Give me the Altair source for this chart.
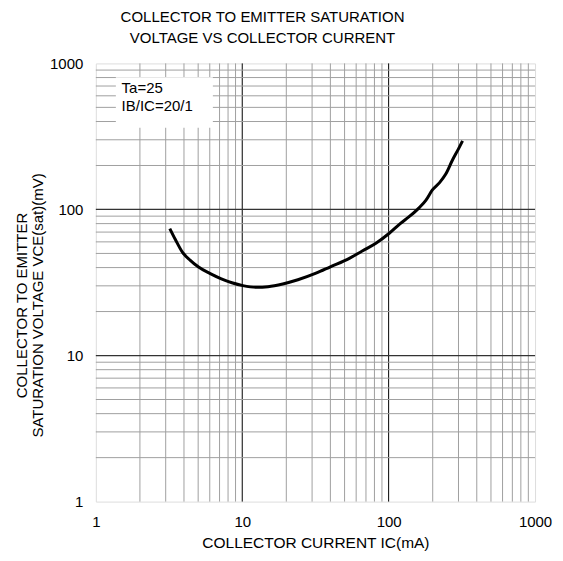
import altair as alt
import pandas as pd

# Curve (IC in mA, VCE(sat) in mV)
ic = [3.2, 3.5, 3.9, 4.4, 5.0, 6.0, 7.2, 8.5, 10.1, 12.5, 15.0, 18.9, 24.0, 31.9, 40.0, 53.9, 66.0, 81.9, 101, 120, 138, 162, 180, 199, 222, 245, 273, 300, 320]
vce = [74, 62, 51, 45, 40.5, 36.5, 33.5, 31.5, 30.1, 29.3, 29.6, 30.9, 33.0, 36.6, 40.5, 46.3, 52.0, 58.7, 68.7, 80.0, 89.2, 103, 116, 136, 152, 174, 218, 260, 295]

minor_x = [2, 3, 4, 5, 6, 7, 8, 9, 20, 30, 40, 50, 60, 70, 80, 90, 200, 300, 400, 500, 600, 700, 800, 900]
major_x = [10, 100]
minor_y = [2, 3, 4, 5, 6, 7, 8, 9, 20, 30, 40, 50, 60, 70, 80, 90, 200, 300, 400, 500, 600, 700, 800, 900]
major_y = [10, 100]
tick_values = [1, 10, 100, 1000]

note_lines = ["Ta=25", "IB/IC=20/1"]
note_x = [1.5, 1.5]
note_y = [676, 509]
box_x = [1.37]
box_x2 = [6.3]
box_y = [804]
box_y2 = [362]

FONT = "Liberation Sans"

xscale = alt.Scale(type="log", domain=[1, 1000], nice=False)
yscale = alt.Scale(type="log", domain=[1, 1000], nice=False)

xaxis = alt.Axis(values=tick_values, format="d", grid=False, ticks=False, domain=False,
                 labelFlush=False, labelOverlap=False, labelPadding=13,
                 labelFont=FONT, labelFontSize=15, labelColor="black",
                 title="COLLECTOR CURRENT IC(mA)", titleFont=FONT, titleFontSize=15.5,
                 titleFontWeight="normal", titleColor="black", titlePadding=6)
yaxis = alt.Axis(values=tick_values, format="d", grid=False, ticks=False, domain=False,
                 labelFlush=False, labelOverlap=False, labelPadding=13,
                 labelFont=FONT, labelFontSize=15, labelColor="black",
                 title=["COLLECTOR TO EMITTER", "SATURATION VOLTAGE VCE(sat)(mV)"],
                 titleFont=FONT, titleFontSize=15, titleFontWeight="normal", titleColor="black",
                 titleAngle=270, titleAlign="center", titleBaseline="top",
                 titleX=-81, titleY=242, titleLineHeight=16)

curve_df = pd.DataFrame({"ic": ic, "vce": vce})

vminor = alt.Chart(pd.DataFrame({"v": minor_x})).mark_rule(color="#a0a0a0", strokeWidth=1).encode(
    x=alt.X("v:Q", scale=xscale, axis=xaxis))
vmajor = alt.Chart(pd.DataFrame({"v": major_x})).mark_rule(color="#000000", strokeWidth=1).encode(
    x=alt.X("v:Q", scale=xscale))
hminor = alt.Chart(pd.DataFrame({"v": minor_y})).mark_rule(color="#a0a0a0", strokeWidth=1).encode(
    y=alt.Y("v:Q", scale=yscale, axis=yaxis))
hmajor = alt.Chart(pd.DataFrame({"v": major_y})).mark_rule(color="#333333", strokeWidth=1.2).encode(
    y=alt.Y("v:Q", scale=yscale))

box = alt.Chart(pd.DataFrame({"x": box_x, "x2": box_x2, "y": box_y, "y2": box_y2})).mark_rect(
    color="white").encode(
    x=alt.X("x:Q", scale=xscale), x2="x2:Q",
    y=alt.Y("y:Q", scale=yscale), y2="y2:Q")

notes = alt.Chart(pd.DataFrame({"t": note_lines, "x": note_x, "y": note_y})).mark_text(
    align="left", baseline="middle", font=FONT, fontSize=15, color="black").encode(
    x=alt.X("x:Q", scale=xscale), y=alt.Y("y:Q", scale=yscale), text="t:N")

curve = alt.Chart(curve_df).mark_line(color="black", strokeWidth=3, interpolate="monotone").encode(
    x=alt.X("ic:Q", scale=xscale), y=alt.Y("vce:Q", scale=yscale))

chart = alt.layer(vminor, vmajor, hminor, hmajor, box, notes, curve).properties(
    width=440, height=439,
    title=alt.TitleParams(["COLLECTOR TO EMITTER SATURATION", "VOLTAGE VS COLLECTOR CURRENT"],
                          font=FONT, fontSize=15, fontWeight="normal", color="black",
                          anchor="middle", dx=-53, offset=10, lineHeight=21),
    autosize=alt.AutoSizeParams(type="none"),
    padding={"left": 88, "top": 55, "right": 20, "bottom": 52},
).configure_view(stroke="black", strokeWidth=3).configure(background="white")

chart.save("out.html", embed_options={"renderer": "svg", "actions": False})
